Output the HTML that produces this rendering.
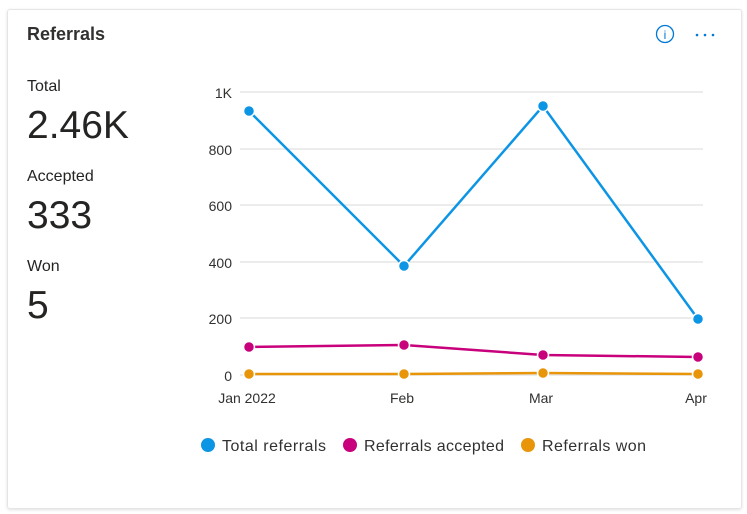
<!DOCTYPE html>
<html><head><style>
body{margin:0;width:747px;height:514px;background:#fff;font-family:"Liberation Sans",sans-serif;color:#252423;overflow:hidden}
.card{position:absolute;left:7px;top:9px;width:733px;height:498px;border:1px solid #e5e5e5;border-radius:3px;box-shadow:0 1px 3px rgba(0,0,0,.12)}
.t{position:absolute;white-space:nowrap}
</style></head><body>
<div class="card"></div>
<div class="t" style="left:27px;top:24px;font-size:18px;font-weight:bold;color:#323130">Referrals</div>
<div class="t" style="left:27px;top:78px;font-size:16px">Total</div>
<div class="t" style="left:27px;top:104px;font-size:39px">2.46K</div>
<div class="t" style="left:27px;top:168px;font-size:16px">Accepted</div>
<div class="t" style="left:27px;top:194px;font-size:39px">333</div>
<div class="t" style="left:27px;top:258px;font-size:16px">Won</div>
<div class="t" style="left:27px;top:284px;font-size:39px">5</div>
<svg width="747" height="514" style="position:absolute;left:0;top:0" font-family="Liberation Sans, sans-serif">
<circle cx="665" cy="34" r="8.5" fill="none" stroke="#0078d4" stroke-width="1.3"/>
<text x="665" y="39" font-size="12" fill="#0078d4" text-anchor="middle">i</text>
<g fill="#0078d4"><circle cx="697" cy="35" r="1.3"/><circle cx="705" cy="35" r="1.3"/><circle cx="713" cy="35" r="1.3"/></g>
<g stroke="#e1e1e1" stroke-width="1.2">
<line x1="240" x2="703" y1="92" y2="92"/><line x1="240" x2="703" y1="149" y2="149"/><line x1="240" x2="703" y1="205" y2="205"/><line x1="240" x2="703" y1="262" y2="262"/><line x1="240" x2="703" y1="318" y2="318"/><line x1="240" x2="703" y1="375" y2="375"/>
</g>
<g font-size="14" fill="#323130" text-anchor="end">
<text x="232" y="98">1K</text><text x="232" y="155">800</text><text x="232" y="211">600</text><text x="232" y="268">400</text><text x="232" y="324">200</text><text x="232" y="381">0</text>
</g>
<g font-size="14" fill="#323130" text-anchor="middle">
<text x="247" y="403">Jan 2022</text><text x="402" y="403">Feb</text><text x="541" y="403">Mar</text><text x="696" y="403">Apr</text>
</g>
<polyline points="249,374 404,374 543,373 698,374" fill="none" stroke="#e8950a" stroke-width="2.5"/>
<polyline points="249,347 404,345 543,355 698,357" fill="none" stroke="#c8007b" stroke-width="2.5"/>
<polyline points="249,111 404,266 543,106 698,319" fill="none" stroke="#0d95e5" stroke-width="2.5"/>
<g fill="#e8950a" stroke="#fff" stroke-width="1.5"><circle cx="249" cy="374" r="5.5"/><circle cx="404" cy="374" r="5.5"/><circle cx="543" cy="373" r="5.5"/><circle cx="698" cy="374" r="5.5"/></g>
<g fill="#c8007b" stroke="#fff" stroke-width="1.5"><circle cx="249" cy="347" r="5.5"/><circle cx="404" cy="345" r="5.5"/><circle cx="543" cy="355" r="5.5"/><circle cx="698" cy="357" r="5.5"/></g>
<g fill="#0d95e5" stroke="#fff" stroke-width="1.5"><circle cx="249" cy="111" r="5.5"/><circle cx="404" cy="266" r="5.5"/><circle cx="543" cy="106" r="5.5"/><circle cx="698" cy="319" r="5.5"/></g>
<circle cx="208" cy="445" r="7" fill="#0d95e5"/><text x="222" y="451" font-size="16" fill="#323130" textLength="104">Total referrals</text>
<circle cx="350" cy="445" r="7" fill="#c8007b"/><text x="364" y="451" font-size="16" fill="#323130" textLength="140">Referrals accepted</text>
<circle cx="528" cy="445" r="7" fill="#e8950a"/><text x="542" y="451" font-size="16" fill="#323130" textLength="104">Referrals won</text>
</svg>
</body></html>
